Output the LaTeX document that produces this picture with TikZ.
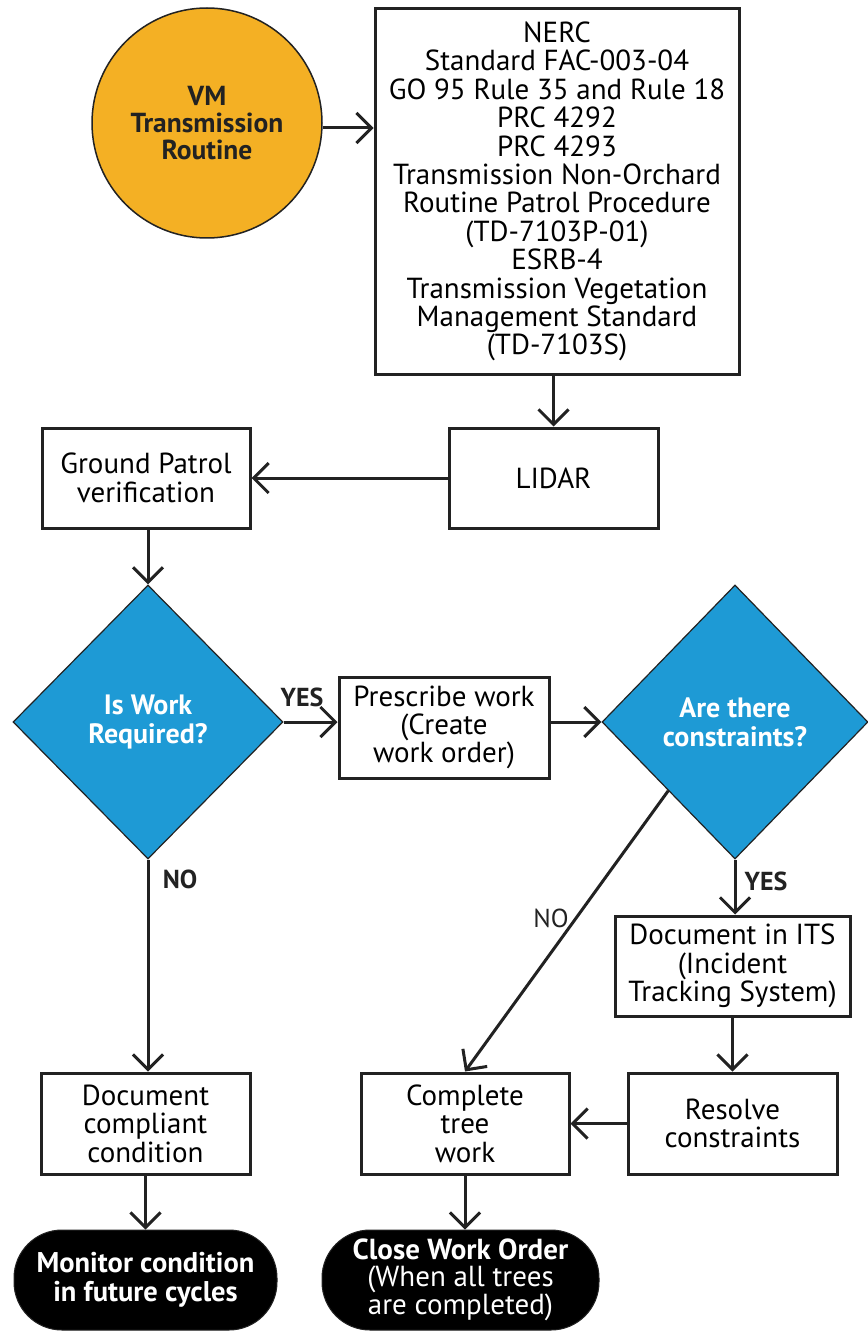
\documentclass[tikz,border=0pt]{standalone}
\usepackage{fontspec}
\setmainfont{PT Sans}
\usetikzlibrary{arrows.meta,shapes.geometric}
\definecolor{vmorange}{HTML}{F4B024}
\definecolor{vmblue}{HTML}{1E9AD5}
\definecolor{ink}{HTML}{222222}
\begin{document}
\begin{tikzpicture}[x=1pt,y=-1pt,
  txt/.style={font=\fontsize{29}{28.4}\selectfont},
  box/.style={draw=ink,line width=3pt,fill=white,align=center,txt,inner sep=2pt},
  dia/.style={diamond,draw=ink,line width=1.2pt,fill=vmblue,text=white,align=center,
    font=\bfseries\fontsize{28}{29}\selectfont,minimum width=270pt,minimum height=274pt,inner sep=0pt},
  term/.style={fill=black,draw=ink,line width=1pt,rounded corners=48pt,text=white,align=center,
    minimum width=263pt,minimum height=100pt,inner sep=0pt},
  arr/.style={draw=ink,line width=3pt,-{Straight Barb[length=15pt,width=30pt]}},
  lbl/.style={font=\bfseries\fontsize{26}{28}\selectfont,text=ink}
]
\useasboundingbox[fill=white] (0,0) rectangle (867,1332);

\node[circle,fill=vmorange,draw=ink,line width=1.5pt,minimum size=230pt,inner sep=0pt,align=center,
  font=\bfseries\fontsize{27.5}{27}\selectfont,text=ink] (circ) at (207,123) {VM\\Transmission\\Routine};

\node[box,minimum width=364pt,minimum height=365pt] (top) at (557,191.5)
 {NERC\\Standard FAC-003-04\\GO 95 Rule 35 and Rule 18\\PRC 4292\\PRC 4293\\Transmission Non-Orchard\\Routine Patrol Procedure\\(TD-7103P-01)\\ESRB-4\\Transmission Vegetation\\Management Standard\\(TD-7103S)};

\node[box,minimum width=208pt,minimum height=100pt] (gp) at (146,478) {Ground Patrol\\verification};
\node[box,minimum width=209pt,minimum height=100pt] (lidar) at (553.5,478) {LIDAR};

\node[dia] (d1) at (148,722) {Is Work\\Required?};
\node[box,minimum width=210pt,minimum height=101pt] (pw) at (444,727.5) {Prescribe work\\(Create\\work order)};
\node[dia,minimum width=266pt] (d2) at (735,722) {Are there\\constraints?};

\node[box,minimum width=235pt,minimum height=100pt] (its) at (732.5,966) {Document in ITS\\(Incident\\Tracking System)};
\node[box,minimum width=209pt,minimum height=101pt] (doc) at (145.5,1123.5) {Document\\compliant\\condition};
\node[box,minimum width=208pt,minimum height=101pt] (ctw) at (465,1123.5) {Complete\\tree\\work};
\node[box,minimum width=209pt,minimum height=101pt] (res) at (732.5,1123.5) {Resolve\\constraints};

\node[term,font=\bfseries\fontsize{28.5}{29}\selectfont] (mon) at (145.5,1280) {Monitor condition\\in future cycles};
\node[term,minimum width=277pt,font=\fontsize{29}{26.5}\selectfont] (close) at (460.5,1280) {{\bfseries Close Work Order}\\(When all trees\\are completed)};

\draw[arr] (circ.east |- 0,128) -- (top.west |- 0,128);
\draw[arr] (top.south -| lidar.north) -- (lidar.north);
\draw[arr] (lidar.west) -- (gp.east);
\draw[arr] (gp.south -| d1.north) -- (d1.north);
\draw[arr] (d1.east) -- (pw.west |- d1.east);
\draw[arr] (pw.east |- d2.west) -- (d2.west);
\draw[arr] (d2.south) -- (its.north -| d2.south);
\draw[arr] (its.south) -- (res.north);
\draw[arr] (res.west) -- (ctw.east);
\draw[arr] (d1.south) -- (doc.north -| d1.south);
\draw[arr] (d2.south west) -- (ctw.north);
\draw[arr] (doc.south) -- (mon.north -| doc.south);
\draw[arr] (ctw.south) -- (close.north -| ctw.south);

\node[lbl] (yes1) at (302,697) {YES};
\node[lbl] (no1) at (180,879) {NO};
\node[lbl] (yes2) at (766,881) {YES};
\node[lbl,font=\fontsize{26}{28}\selectfont] (no2) at (551,918) {NO};
\end{tikzpicture}
\end{document}
